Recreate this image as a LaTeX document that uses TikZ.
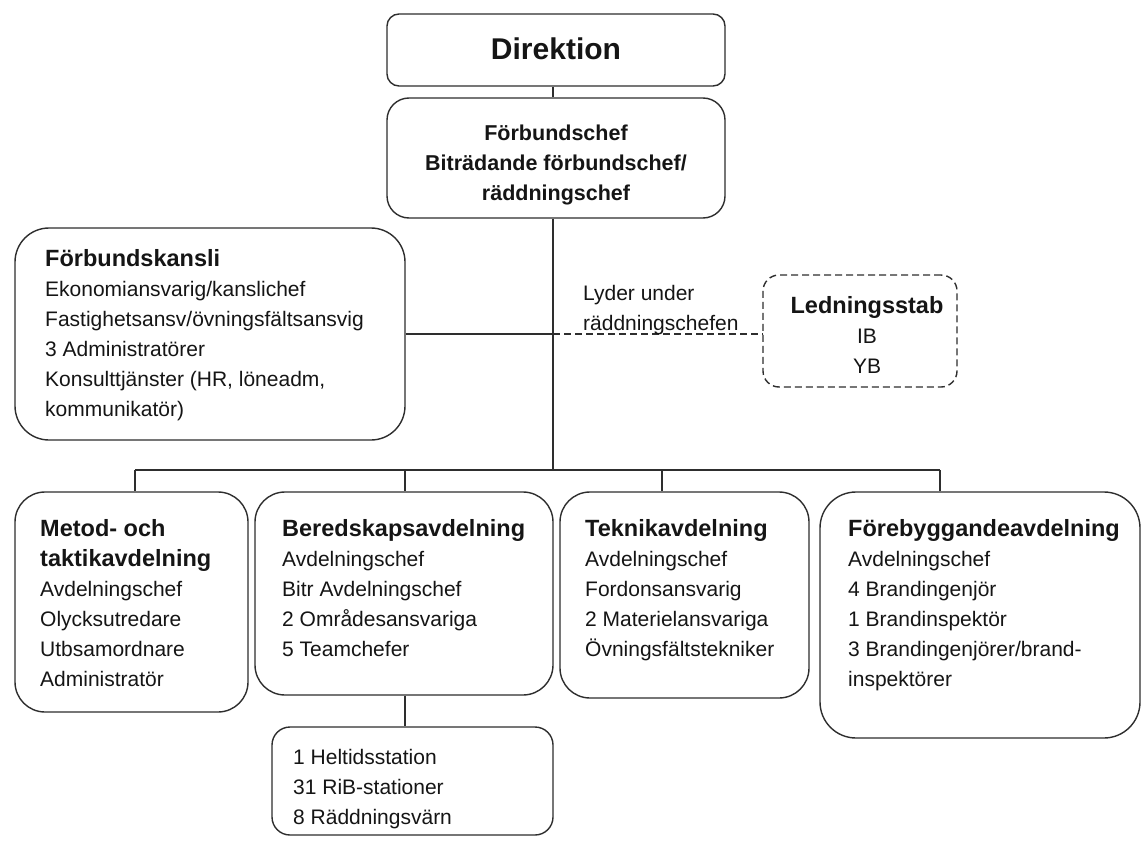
\documentclass[tikz,border=0pt]{standalone}
\usepackage{fontspec}
\setmainfont{Liberation Sans}
\newcommand\stk[1]{\vtop{\baselineskip=30pt\lineskiplimit=-100pt\lineskip=0pt\halign{##\hfil\cr#1\crcr}}}
\newcommand\cstk[1]{\vtop{\baselineskip=30pt\lineskiplimit=-100pt\lineskip=0pt\halign{\hfil##\hfil\cr#1\crcr}}}
\newcommand\ttl[1]{{\bfseries\fontsize{23.5}{30}\selectfont #1}}
\definecolor{edge}{HTML}{2E2E2E}
\definecolor{ink}{HTML}{151515}
\begin{document}
\begin{tikzpicture}[x=1pt,y=-1pt,
  box/.style={draw=edge, line width=1.4pt, inner sep=0pt, fill=white},
  txt/.style={inner sep=0pt, text=ink, font=\fontsize{21}{30}\selectfont},
  conn/.style={draw=edge, line width=1.3pt}]
\useasboundingbox (0,0) rectangle (1142,840);
% boxes
\node[box, rounded corners=12pt, minimum width=338pt, minimum height=72pt] (dir) at (556,50) {};
\node[box, rounded corners=22pt, minimum width=338pt, minimum height=120pt] (chef) at (556,158) {};
\node[box, rounded corners=34pt, minimum width=390pt, minimum height=212pt] (kansli) at (210,334) {};
\node[box, dashed, dash pattern=on 7pt off 4pt, rounded corners=16pt, minimum width=194pt, minimum height=112pt] (led) at (860,331) {};
\node[box, rounded corners=30pt, minimum width=233pt, minimum height=220pt] (metod) at (131.5,602) {};
\node[box, rounded corners=30pt, minimum width=298pt, minimum height=203pt] (bered) at (404,593.5) {};
\node[box, rounded corners=30pt, minimum width=249pt, minimum height=206pt] (teknik) at (684.5,595) {};
\node[box, rounded corners=36pt, minimum width=320pt, minimum height=246pt] (fore) at (980,615) {};
\node[box, rounded corners=18pt, minimum width=281pt, minimum height=108pt] (stat) at (412.5,781) {};
% coordinates
\coordinate (j) at (553,470);
\coordinate (b1) at (135,470);
\coordinate (b2) at (405,470);
\coordinate (b3) at (662,470);
\coordinate (b4) at (940,470);
% connectors
\draw[conn] (dir.south -| j) -- (chef.north -| j);
\draw[conn] (chef.south -| j) -- (j);
\draw[conn] (kansli.east) -- (kansli.east -| j);
\draw[conn, dashed, dash pattern=on 7pt off 4pt, line width=1.2pt] (kansli.east -| j) -- (kansli.east -| led.west);
\draw[conn] (b1) -- (b4);
\draw[conn] (b1) -- (metod.north -| b1);
\draw[conn] (b2) -- (bered.north -| b2);
\draw[conn] (b3) -- (teknik.north -| b3);
\draw[conn] (b4) -- (fore.north -| b4);
\draw[conn] (bered.south -| b2) -- (stat.north -| b2);
% texts
\node[txt, font=\bfseries\fontsize{30}{36}\selectfont, anchor=base] (tdir) at (556,60) {Direktion};
\node[txt, font=\bfseries\fontsize{21.5}{30}\selectfont, anchor=base] (tchef) at (556,140) {\cstk{Förbundschef\cr Biträdande förbundschef/\cr räddningschef}};
\node[txt, anchor=base west] (tkansli) at (45,266) {\stk{\ttl{Förbundskansli}\cr Ekonomiansvarig/kanslichef\cr Fastighetsansv/övningsfältsansvig\cr 3 Administratörer\cr Konsulttjänster (HR, löneadm,\cr kommunikatör)}};
\node[txt, font=\fontsize{21}{29}\selectfont, anchor=base west] (tlyd) at (583,300) {\stk{Lyder under\cr räddningschefen}};
\node[txt, anchor=base] (tled) at (867,313) {\cstk{\ttl{Ledningsstab}\cr IB\cr YB}};
\node[txt, anchor=base west] (tmetod) at (40,536) {\stk{\ttl{Metod- och}\cr \ttl{taktikavdelning}\cr Avdelningschef\cr Olycksutredare\cr Utbsamordnare\cr Administratör}};
\node[txt, anchor=base west] (tbered) at (282,536) {\stk{\ttl{Beredskapsavdelning}\cr Avdelningschef\cr Bitr Avdelningschef\cr 2 Områdesansvariga\cr 5 Teamchefer}};
\node[txt, anchor=base west] (tteknik) at (585,536) {\stk{\ttl{Teknikavdelning}\cr Avdelningschef\cr Fordonsansvarig\cr 2 Materielansvariga\cr Övningsfältstekniker}};
\node[txt, anchor=base west] (tfore) at (848,536) {\stk{\ttl{Förebyggandeavdelning}\cr Avdelningschef\cr 4 Brandingenjör\cr 1 Brandinspektör\cr 3 Brandingenjörer/brand-\cr inspektörer}};
\node[txt, anchor=base west] (tstat) at (293,764) {\stk{1 Heltidsstation\cr 31 RiB-stationer\cr 8 Räddningsvärn}};
\end{tikzpicture}
\end{document}
